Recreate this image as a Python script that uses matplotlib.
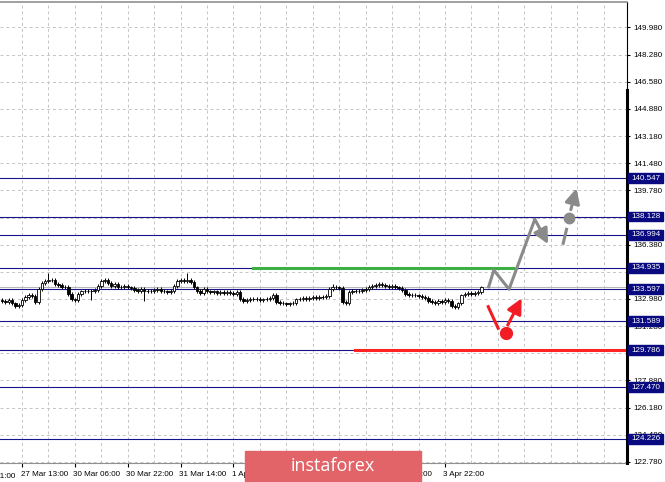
import matplotlib
matplotlib.use("agg")
import matplotlib.pyplot as plt
import matplotlib.transforms as mtransforms
from matplotlib.patches import Rectangle
import numpy as np

# H1 closes, bar 0 = 27 Mar 13:00
first_bar = -6
first_open = 132.90
closes = [
    132.85, 132.80, 132.90, 132.70, 132.55, 132.60,
    132.90, 133.10, 133.25, 133.15, 132.80, 133.60, 134.00, 134.10, 134.20, 134.15,
    133.90, 133.85, 133.70, 133.75, 133.30, 132.95, 132.90, 133.30, 133.45, 133.50,
    133.50, 133.45, 133.55, 133.80, 134.10, 134.20, 134.00, 133.80, 133.90, 133.75,
    133.70, 133.80, 133.70, 133.65, 133.55, 133.50, 133.60, 133.50, 133.45, 133.50,
    133.55, 133.60, 133.50, 133.45, 133.40, 133.50, 133.80, 134.10, 134.15, 134.10,
    134.20, 134.05, 133.70, 133.50, 133.35, 133.60, 133.45, 133.40, 133.45, 133.35,
    133.40, 133.35, 133.40, 133.35, 133.30, 133.40, 133.00, 132.85, 132.90, 133.00,
    132.95, 133.00, 132.90, 132.95, 133.00, 133.05, 133.25, 132.80, 132.75, 132.70,
    132.65, 132.70, 132.75, 132.95, 133.00, 133.05, 133.00, 133.05, 133.10, 133.05,
    133.10, 133.10, 133.15, 133.60, 133.75, 133.70, 133.65, 132.80, 132.75, 133.40,
    133.50, 133.45, 133.50, 133.55, 133.60, 133.75, 133.80, 133.85, 133.90, 133.85,
    133.80, 133.75, 133.80, 133.70, 133.65, 133.55, 133.30, 133.20, 133.25, 133.20,
    133.15, 133.10, 133.05, 132.85, 132.80, 132.75, 132.85, 132.80, 132.90, 132.85,
    132.55, 132.50, 132.70, 133.20, 133.30, 133.35, 133.30, 133.35, 133.40, 133.70,
]
# longer shadows seen on the chart
wick_highs = {8: 134.60, 50: 134.60, 94: 133.90}
wick_lows = {21: 132.92, 37: 132.87}

x_ticks = [-16, 0, 16, 32, 48, 64, 80, 96, 112, 128]
x_labels = ["26 Mar 21:00", "27 Mar 13:00", "30 Mar 06:00", "30 Mar 22:00", "31 Mar 14:00",
            "1 Apr 06:00", "1 Apr 22:00", "2 Apr 14:00", "3 Apr 06:00", "3 Apr 22:00"]
y_ticks = [122.780, 124.480, 126.180, 127.880, 129.580, 131.280, 132.980, 134.680, 136.380,
           138.080, 139.780, 141.480, 143.180, 144.880, 146.580, 148.280, 149.980]

levels = [140.547, 138.128, 136.994, 134.935, 133.597, 131.589, 129.786, 127.470, 124.226]
green_level = 134.935
green_from, green_to = 70, 148.5
red_level = 129.786
red_from = 100.8

# forecast sketch (bar, price)
gray_path_x = [141.1, 142.8, 147.4, 155.2]
gray_path_y = [133.65, 134.79, 133.59, 137.97]
gray_arrow_end = (159.2, 136.42)
gray_dash_x = [163.8, 164.8]
gray_dash_y = [136.47, 137.34]
gray_dot = (165.5, 138.03)
gray_up_start, gray_up_end = (166.1, 138.57), (167.8, 139.91)
red_path_x = [141.1, 144.1]
red_path_y = [132.50, 131.15]
red_dot = (146.35, 130.87)
red_up_start, red_up_end = (147.0, 131.35), (151.2, 133.02)

NAVY = "#15158c"
GRID = "#c4c4c4"
FONT = "Liberation Sans"
FS = 5.8

fig = plt.figure(figsize=(6.65, 4.82), dpi=100)
fig.patch.set_facecolor("white")
ax = fig.add_axes([0, 19 / 482, 627 / 665, 461 / 482])
ax.set_xlim(-6.66, 183.1)
ax.set_ylim(122.717, 151.566)

# grid
for gx in range(0, 184, 8):
    ax.axvline(gx, color=GRID, lw=0.7, ls=(0, (3, 3)), zorder=0)
for gy in y_ticks:
    ax.axhline(gy, color=GRID, lw=0.7, ls=(0, (3, 3)), zorder=0)

# levels
for lv in levels:
    ax.axhline(lv, color=NAVY, lw=0.8, zorder=1)
ax.axhline(closes[-1], color="#b8b8b8", lw=0.8, zorder=1)
ax.plot([green_from, green_to], [green_level, green_level], color="#3cb043", lw=2.2, zorder=2)
ax.plot([red_from, 190], [red_level, red_level], color="#ff2424", lw=2.2, zorder=2)

# candles
bars = np.arange(first_bar, first_bar + len(closes))
opens = np.array([first_open] + closes[:-1])
cl = np.array(closes)
for i, b in enumerate(bars):
    o, c = opens[i], cl[i]
    hi = wick_highs.get(b, max(o, c) + 0.12)
    lo = wick_lows.get(b, min(o, c) - 0.12)
    ax.vlines(b, lo, hi, color="black", lw=0.7, zorder=3)
    face = "white" if c >= o else "black"
    h = abs(c - o)
    if h < 0.02:
        ax.hlines(c, b - 0.4, b + 0.4, color="black", lw=0.8, zorder=4)
    else:
        ax.bar(b, h, bottom=min(o, c), width=0.75, color=face, edgecolor="black", lw=0.6, zorder=4)

# forecast sketch
gray = "#8a8a8a"
head = "-|>,head_length=0.9,head_width=0.45"
ax.plot(gray_path_x, gray_path_y, color=gray, lw=2.2, solid_capstyle="butt", zorder=5)
ax.annotate("", xy=gray_arrow_end, xytext=(gray_path_x[-1], gray_path_y[-1]),
            arrowprops=dict(arrowstyle=head, color=gray, lw=2.2, shrinkA=0, shrinkB=0), zorder=5)
ax.plot(gray_dash_x, gray_dash_y, color=gray, lw=2.2, zorder=5)
ax.plot(*gray_dot, "o", color=gray, ms=7.5, zorder=5)
ax.annotate("", xy=gray_up_end, xytext=gray_up_start,
            arrowprops=dict(arrowstyle=head, color=gray, lw=2.2, shrinkA=0, shrinkB=0), zorder=5)
red = "#f21c24"
ax.plot(red_path_x, red_path_y, color=red, lw=2.2, zorder=5)
ax.plot(*red_dot, "o", color=red, ms=8.5, zorder=5)
ax.annotate("", xy=red_up_end, xytext=red_up_start,
            arrowprops=dict(arrowstyle=head, color=red, lw=2.2, shrinkA=0, shrinkB=0), zorder=5)

# axes frame
ax.spines["left"].set_visible(False)
ax.spines["top"].set_color("#909090")
ax.spines["top"].set_linewidth(1.2)
ax.spines["bottom"].set_color("#909090")
ax.spines["right"].set_color("black")
trans_y = mtransforms.blended_transform_factory(ax.transAxes, ax.transData)
ax.plot([1, 1], [122.717, 146.06], color="black", lw=2.2, transform=trans_y, clip_on=False, zorder=6)

ax.yaxis.tick_right()
ax.set_yticks(y_ticks)
ax.set_yticklabels([f"{v:.3f}" for v in y_ticks], fontsize=FS, fontfamily=FONT)
ax.tick_params(axis="y", length=2.5, pad=2, width=0.8)

ax.set_xticks(x_ticks[1:])
ax.set_xticklabels(x_labels[1:], fontsize=FS, fontfamily=FONT, ha="left")
ax.tick_params(axis="x", length=3, pad=3, width=0.8)
offset = mtransforms.ScaledTranslation(-1.5 / 100, 0, fig.dpi_scale_trans)
for lab in ax.get_xticklabels():
    lab.set_transform(lab.get_transform() + offset)
trans_x = mtransforms.blended_transform_factory(ax.transData, ax.transAxes)
ax.text(x_ticks[0] - 0.45, -0.0215, x_labels[0], transform=trans_x, fontsize=FS,
        fontfamily=FONT, ha="left", va="top", clip_on=False)

# price boxes
box_h = 9.5 / 15.98
for lv in levels:
    ax.add_patch(Rectangle((1 + 1 / 627, lv - box_h / 2), 35 / 627, box_h, transform=trans_y,
                           color="#0a0a80", clip_on=False, zorder=7))
    ax.text(1 + 4.5 / 627, lv, f"{lv:.3f}", transform=trans_y, color="white", fontsize=FS,
            fontfamily=FONT, va="center", ha="left", clip_on=False, zorder=8)

# logo
fig.add_artist(Rectangle((245 / 665, 0), 176 / 665, 31 / 482, transform=fig.transFigure,
                         color="#e26468", zorder=10))
fig.text(333 / 665, 16 / 482, "instaforex", color="white", fontsize=13, fontfamily="Open Sans",
         ha="center", va="center", zorder=11)

fig.savefig("out.png", dpi=100)
